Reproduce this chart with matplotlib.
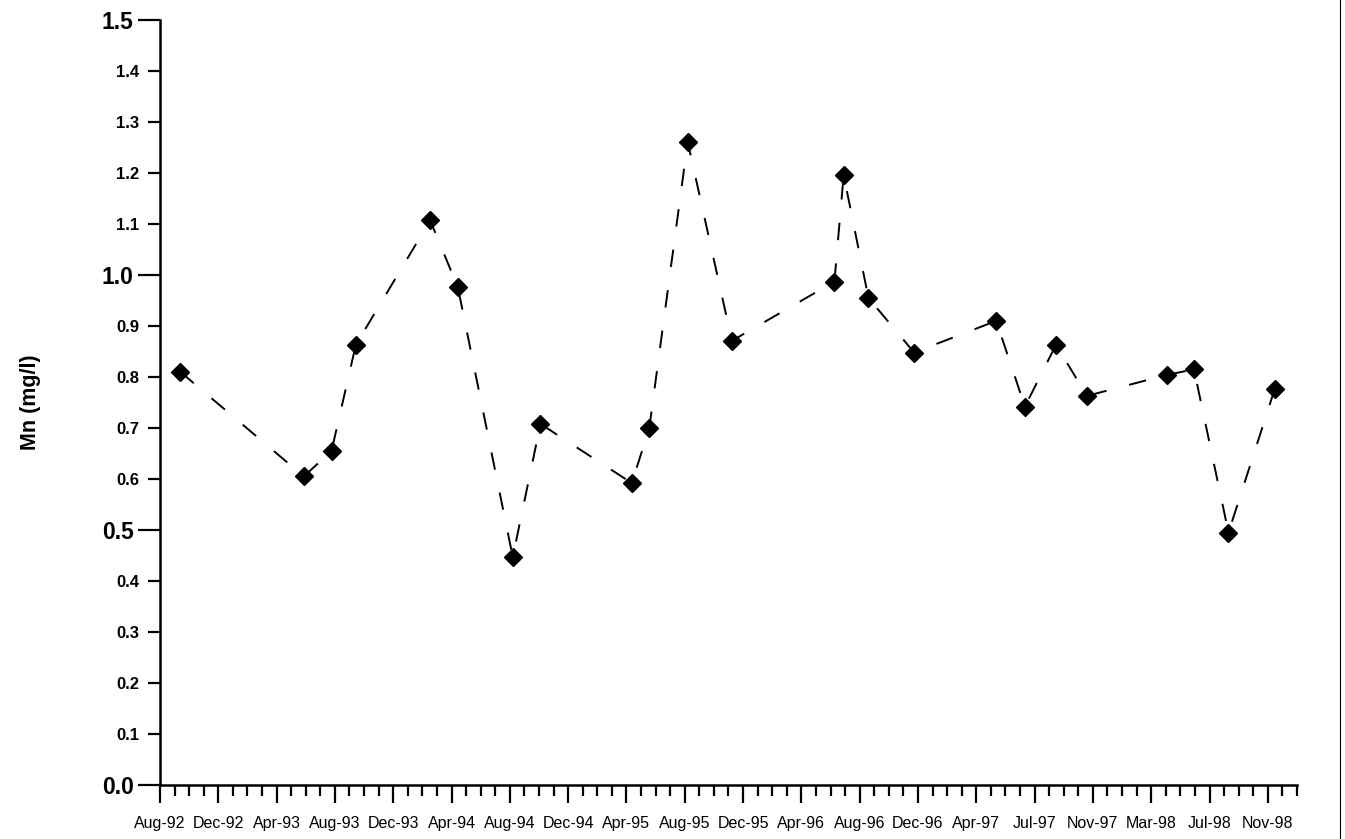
import datetime as dt

import matplotlib
matplotlib.use("Agg")
import matplotlib.pyplot as plt
from matplotlib.lines import Line2D

plt.rcParams['font.family'] = ['Liberation Sans', 'DejaVu Sans']

# sampling dates and manganese values
sample_dates = [
    "1992-10-06", "1993-06-17", "1993-08-13", "1993-10-02", "1994-03-04",
    "1994-04-30", "1994-08-21", "1994-10-17", "1995-04-23", "1995-05-29",
    "1995-08-16", "1995-11-15", "1996-06-13", "1996-07-02", "1996-08-22",
    "1996-11-24", "1997-05-12", "1997-07-10", "1997-09-12", "1997-11-15",
    "1998-04-28", "1998-06-23", "1998-09-02", "1998-12-06",
]
mn_values = [
    0.81, 0.605, 0.655, 0.863, 1.107,
    0.976, 0.447, 0.708, 0.592, 0.70,
    1.261, 0.871, 0.987, 1.196, 0.955,
    0.848, 0.910, 0.742, 0.863, 0.763,
    0.804, 0.815, 0.495, 0.776,
]

# date axis: labels every 120 days, small ticks every 30 days
axis_start = dt.date(1992, 8, 25)
axis_days = 2340
major_step = 120
minor_step = 30

y_major = [0.0, 0.5, 1.0, 1.5]
y_minor = [0.1, 0.2, 0.3, 0.4, 0.6, 0.7, 0.8, 0.9, 1.1, 1.2, 1.3, 1.4]

dates = [dt.datetime.strptime(d, "%Y-%m-%d") for d in sample_dates]

fig = plt.figure(figsize=(13.45, 8.39), dpi=100)
ax = fig.add_axes([160 / 1345, 1 - 785 / 839, 1137 / 1345, 765 / 839])

line, = ax.plot(dates, mn_values, color='black', lw=1.4, linestyle='--',
                marker='D', markersize=9.5, markerfacecolor='black',
                markeredgecolor='black')
line.set_dashes([9, 12])

ax.set_ylim(0, 1.5)
ax.set_xlim(axis_start, axis_start + dt.timedelta(days=axis_days))

# y ticks
ax.set_yticks(y_major, labels=["%.1f" % v for v in y_major],
              fontsize=16.5, fontweight='bold')
ax.set_yticks(y_minor, labels=["%.1f" % v for v in y_minor], minor=True,
              fontsize=12, fontweight='bold')
ax.tick_params(axis='y', which='major', length=16, width=1.6, pad=3)
ax.tick_params(axis='y', which='minor', length=9, width=1.6, pad=6)

# x ticks
major_dates = [axis_start + dt.timedelta(days=major_step * k)
               for k in range(axis_days // major_step + 1)]
minor_dates = [axis_start + dt.timedelta(days=minor_step * k)
               for k in range(axis_days // minor_step + 1)]
ax.set_xticks(major_dates, labels=[d.strftime("%b-%y") for d in major_dates],
              fontsize=11.5)
ax.set_xticks(minor_dates, minor=True)
ax.tick_params(axis='x', which='major', length=13, width=1.6, pad=9)
ax.tick_params(axis='x', which='minor', length=8, width=1.6)

ax.set_ylabel("Mn (mg/l)", fontsize=15.5, fontweight='bold')
ax.yaxis.set_label_coords(-0.105, 0.5)

for side in ['top', 'right']:
    ax.spines[side].set_visible(False)
for side in ['left', 'bottom']:
    ax.spines[side].set_linewidth(1.8)

# page edge from the scan
fig.add_artist(Line2D([1340 / 1345, 1340 / 1345], [0, 1], color='black', lw=0.8))

fig.savefig("out.png", dpi=100)
